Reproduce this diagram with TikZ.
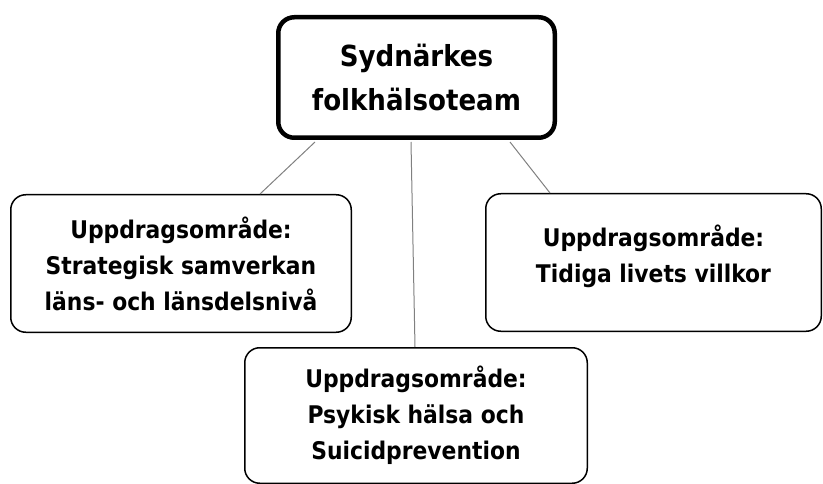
\documentclass[tikz,border=0pt]{standalone}
\usepackage{fontspec}
\setmainfont{DejaVu Sans Condensed}
\tikzset{
  box/.style={draw=black, line width=1.5pt, rounded corners=15pt, fill=white, align=center,
    inner sep=0pt, font=\bfseries\fontsize{24.3}{36}\selectfont},
  topbox/.style={draw=black, line width=4.5pt, rounded corners=16pt, fill=white, align=center,
    inner sep=0pt, font=\bfseries\fontsize{29}{44}\selectfont},
  link/.style={draw=black!50, line width=1pt}
}
\begin{document}
\begin{tikzpicture}[x=1pt,y=-1pt]
\useasboundingbox (0,0) rectangle (823,484);
\node[topbox, minimum width=276.5pt, minimum height=120.5pt] (top) at (416.5,77.5) {Sydnärkes\\folkhälsoteam};
\node[box, minimum width=340.5pt, minimum height=137.5pt] (left) at (181,263.5) {Uppdragsområde:\\Strategisk samverkan\\läns- och länsdelsnivå};
\node[box, minimum width=335.5pt, minimum height=137.5pt, text depth=17.7pt] (right) at (653.5,262.5) {Uppdragsområde:\\Tidiga livets villkor};
\node[box, minimum width=342.5pt, minimum height=135.5pt] (mid) at (416,415.5) {Uppdragsområde:\\Psykisk hälsa och\\Suicidprevention};
\draw[link] ([xshift=-101.5pt,yshift=-2pt]top.south) -- ([xshift=79pt]left.north);
\draw[link] ([xshift=-5.5pt,yshift=-2pt]top.south) -- ([xshift=-1pt]mid.north);
\draw[link] ([xshift=93.5pt,yshift=-2pt]top.south) -- ([xshift=-103.5pt]right.north);
\end{tikzpicture}
\end{document}
